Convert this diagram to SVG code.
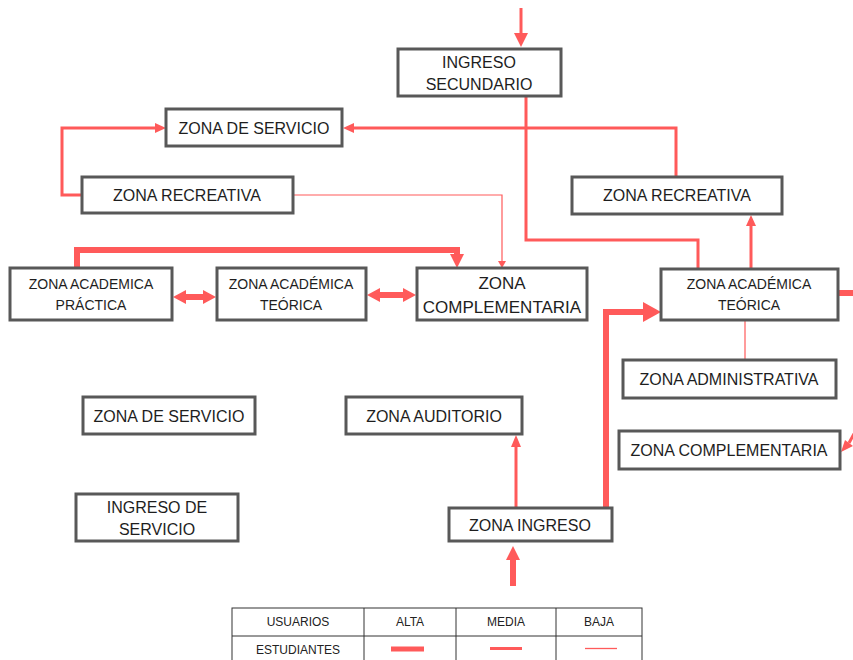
<svg xmlns="http://www.w3.org/2000/svg" width="853" height="660" viewBox="0 0 853 660">
  <defs>
    <style>
      .box { fill: #ffffff; stroke: #585858; stroke-width: 3; }
      .lbl { font-family: "Liberation Sans", Arial, sans-serif; font-size: 16px; fill: #1e1e1e; text-anchor: middle; }
      .sm { font-size: 14px; }
      .lg { font-size: 17px; }
      .alta { fill: none; stroke: #ff5a5a; stroke-width: 6; }
      .media { fill: none; stroke: #ff5a5a; stroke-width: 3; }
      .baja { fill: none; stroke: #ff5a5a; stroke-width: 1.2; }
      .head { fill: #ff5a5a; }
      .tbl { fill: none; stroke: #333333; stroke-width: 1; }
      .tt { font-family: "Liberation Sans", Arial, sans-serif; font-size: 12px; fill: #222222; text-anchor: middle; }
    </style>
  </defs>

  <!-- connectors -->
  <g id="connectors">
    <!-- entry from top into secondary entrance -->
    <path class="media" d="M521 8 V34" stroke-width="4"/>
    <polygon class="head" points="514,33 528,33 521,47"/>

    <!-- secondary entrance down to right academic zone -->
    <path class="media" d="M526 97 V240 H698 V269"/>

    <!-- right recreational zone to service zone -->
    <path class="media" d="M676 177 V128 H352"/>
    <polygon class="head" points="354,123 354,133 343,128"/>

    <!-- left recreational zone to service zone -->
    <path class="media" d="M82 195 H62 V128 H156"/>
    <polygon class="head" points="155,123 155,133 166,128"/>

    <!-- left recreational zone to complementary zone (thin) -->
    <path class="baja" d="M293 195 H502 V262"/>
    <polygon class="head" points="498,261 506,261 502,268"/>

    <!-- practical academic zone to complementary zone -->
    <path class="alta" d="M77 268 V250 H457 V256" stroke-width="5"/>
    <polygon class="head" points="450,254 464,254 457,268"/>

    <!-- practical <-> theoretical -->
    <path class="alta" d="M184 297 H205" stroke-width="5"/>
    <polygon class="head" points="186,290 186,304 173,297"/>
    <polygon class="head" points="203,290 203,304 216,297"/>

    <!-- theoretical <-> complementary -->
    <path class="alta" d="M378 295 H405" stroke-width="5"/>
    <polygon class="head" points="380,288 380,302 367,295"/>
    <polygon class="head" points="403,288 403,302 416,295"/>

    <!-- right academic zone up to right recreational zone -->
    <path class="media" d="M751 269 V224"/>
    <polygon class="head" points="746,226 756,226 751,215"/>

    <!-- right academic zone out to the right -->
    <path class="alta" d="M838 293 H853" stroke-width="7"/>

    <!-- incoming diagonal into right complementary zone -->
    <path class="media" d="M856 430 L849 443"/>
    <polygon class="head" points="841,452 845,440 853,446"/>

    <!-- right academic zone to administrative zone (thin) -->
    <path class="baja" d="M745 320 V360"/>

    <!-- entrance zone up to right academic zone -->
    <path class="alta" d="M606 508 V312 H645" stroke-width="7"/>
    <polygon class="head" points="643,302 643,322 661,312"/>

    <!-- entrance zone to auditorium -->
    <path class="media" d="M516 508 V446"/>
    <polygon class="head" points="511,447 521,447 516,435"/>

    <!-- incoming main entrance -->
    <path class="alta" d="M513 586 V558" stroke-width="5"/>
    <polygon class="head" points="506,560 520,560 513,546"/>
  </g>

  <!-- nodes -->
  <g id="ingreso-secundario">
    <rect class="box" x="398" y="49" width="163" height="47"/>
    <text class="lbl" x="479" y="68">INGRESO</text>
    <text class="lbl" x="479" y="90">SECUNDARIO</text>
  </g>

  <g id="zona-servicio-top">
    <rect class="box" x="166" y="109" width="176" height="37"/>
    <text class="lbl" x="254" y="134">ZONA DE SERVICIO</text>
  </g>

  <g id="zona-recreativa-left">
    <rect class="box" x="82" y="177" width="211" height="36"/>
    <text class="lbl" x="187" y="201">ZONA RECREATIVA</text>
  </g>

  <g id="zona-recreativa-right">
    <rect class="box" x="572" y="177" width="210" height="37"/>
    <text class="lbl" x="677" y="201">ZONA RECREATIVA</text>
  </g>

  <g id="zona-academica-practica">
    <rect class="box" x="10" y="268" width="162" height="52"/>
    <text class="lbl sm" x="91" y="289">ZONA ACADEMICA</text>
    <text class="lbl sm" x="91" y="310">PRÁCTICA</text>
  </g>

  <g id="zona-academica-teorica-left">
    <rect class="box" x="217" y="268" width="149" height="52"/>
    <text class="lbl sm" x="291" y="289">ZONA ACADÉMICA</text>
    <text class="lbl sm" x="291" y="310">TEÓRICA</text>
  </g>

  <g id="zona-complementaria-mid">
    <rect class="box" x="417" y="268" width="170" height="52"/>
    <text class="lbl lg" x="502" y="289">ZONA</text>
    <text class="lbl lg" x="502" y="313">COMPLEMENTARIA</text>
  </g>

  <g id="zona-academica-teorica-right">
    <rect class="box" x="661" y="269" width="177" height="51"/>
    <text class="lbl sm" x="749" y="289">ZONA ACADÉMICA</text>
    <text class="lbl sm" x="749" y="310">TEÓRICA</text>
  </g>

  <g id="zona-administrativa">
    <rect class="box" x="623" y="360" width="213" height="38"/>
    <text class="lbl" x="729" y="385">ZONA ADMINISTRATIVA</text>
  </g>

  <g id="zona-complementaria-right">
    <rect class="box" x="619" y="431" width="221" height="38"/>
    <text class="lbl" x="729" y="456">ZONA COMPLEMENTARIA</text>
  </g>

  <g id="zona-servicio-bottom">
    <rect class="box" x="83" y="397" width="172" height="37"/>
    <text class="lbl" x="169" y="422">ZONA DE SERVICIO</text>
  </g>

  <g id="zona-auditorio">
    <rect class="box" x="346" y="397" width="176" height="37"/>
    <text class="lbl" x="434" y="422">ZONA AUDITORIO</text>
  </g>

  <g id="ingreso-servicio">
    <rect class="box" x="76" y="494" width="162" height="47"/>
    <text class="lbl" x="157" y="513">INGRESO DE</text>
    <text class="lbl" x="157" y="535">SERVICIO</text>
  </g>

  <g id="zona-ingreso">
    <rect class="box" x="449" y="508" width="163" height="33"/>
    <text class="lbl" x="530" y="531">ZONA INGRESO</text>
  </g>

  <!-- legend table -->
  <g id="legend">
    <rect class="tbl" x="232" y="608" width="410" height="60"/>
    <line class="tbl" x1="232" y1="636" x2="642" y2="636"/>
    <line class="tbl" x1="364" y1="608" x2="364" y2="660"/>
    <line class="tbl" x1="456" y1="608" x2="456" y2="660"/>
    <line class="tbl" x1="556" y1="608" x2="556" y2="660"/>
    <text class="tt" x="298" y="626">USUARIOS</text>
    <text class="tt" x="410" y="626">ALTA</text>
    <text class="tt" x="506" y="626">MEDIA</text>
    <text class="tt" x="599" y="626">BAJA</text>
    <text class="tt" x="298" y="654">ESTUDIANTES</text>
    <line x1="391" y1="649" x2="424" y2="649" stroke="#ff5a5a" stroke-width="5"/>
    <line x1="490" y1="648.5" x2="522" y2="648.5" stroke="#ff5a5a" stroke-width="3"/>
    <line x1="585" y1="648.5" x2="617" y2="648.5" stroke="#ff5a5a" stroke-width="1.3"/>
  </g>
</svg>
